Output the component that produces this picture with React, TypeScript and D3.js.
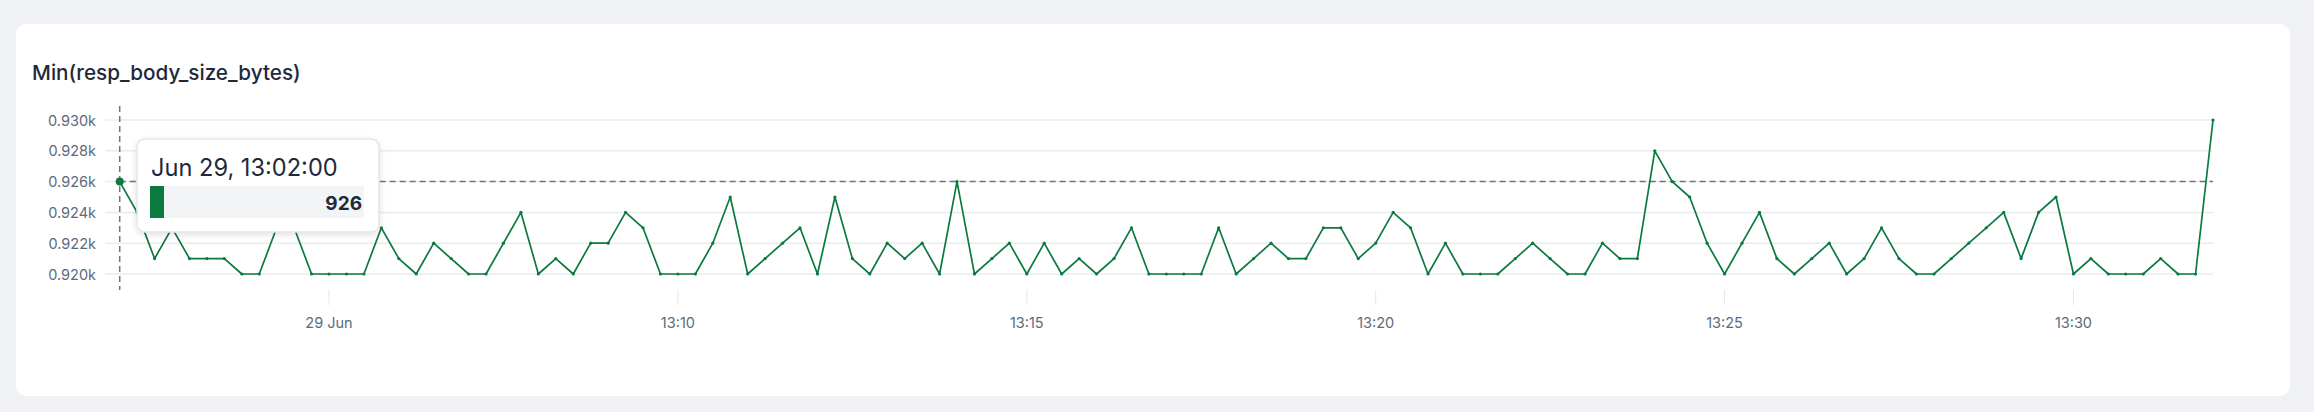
import React from "react";
import * as d3 from "d3";

const title = "Min(resp_body_size_bytes)";
const startTime = new Date(2024, 5, 29, 13, 2, 0);
const stepSeconds = 15;
const values: number[] = [
  926, 924, 921, 923, 921, 921, 921, 920, 920, 923,
  923, 920, 920, 920, 920, 923, 921, 920, 922, 921,
  920, 920, 922, 924, 920, 921, 920, 922, 922, 924,
  923, 920, 920, 920, 922, 925, 920, 921, 922, 923,
  920, 925, 921, 920, 922, 921, 922, 920, 926, 920,
  921, 922, 920, 922, 920, 921, 920, 921, 923, 920,
  920, 920, 920, 923, 920, 921, 922, 921, 921, 923,
  923, 921, 922, 924, 923, 920, 922, 920, 920, 920,
  921, 922, 921, 920, 920, 922, 921, 921, 928, 926,
  925, 922, 920, 922, 924, 921, 920, 921, 922, 920,
  921, 923, 921, 920, 920, 921, 922, 923, 924, 921,
  924, 925, 920, 921, 920, 920, 920, 921, 920, 920,
  930,
];
const yTicks = [920, 922, 924, 926, 928, 930];
const yTickLabels = ["0.920k", "0.922k", "0.924k", "0.926k", "0.928k", "0.930k"];
const xTickMinutes = [5, 10, 15, 20, 25, 30];
const xTickLabels = ["29 Jun", "13:10", "13:15", "13:20", "13:25", "13:30"];
const hoverIndex = 0;
const tooltipTitle = "Jun 29, 13:02:00";

const W = 2314;
const H = 412;
const FONT = "Inter, 'Noto Sans', sans-serif";
const GREEN = "#0b7a3e";

export default function App() {
  const data = values.map((v, i) => ({
    t: new Date(startTime.getTime() + i * stepSeconds * 1000),
    v,
  }));
  const endTime = data[data.length - 1].t;
  const x = d3.scaleTime().domain([startTime, endTime]).range([119.7, 2213]);
  const y = d3.scaleLinear().domain([920, 930]).range([274, 120]);
  const line = d3
    .line<{ t: Date; v: number }>()
    .x((d) => x(d.t))
    .y((d) => y(d.v));
  const hp = data[hoverIndex];
  const hx = x(hp.t);
  const hy = y(hp.v);

  return (
    <div style={{ position: "fixed", left: 0, top: 0, width: W, height: H, background: "#eff1f4" }}>
      <svg width={W} height={H} style={{ position: "absolute", left: 0, top: 0, fontFamily: FONT }}>
        <defs>
          <filter id="tipShadow" x="-20%" y="-30%" width="140%" height="160%">
            <feDropShadow dx="0" dy="2" stdDeviation="3" floodColor="#000" floodOpacity="0.12" />
          </filter>
        </defs>
        <rect x={16} y={24} width={2274} height={372} rx={10} fill="#ffffff" />
        <text x={32} y={80} fontSize={20.7} fontWeight={500} fill="#1e293b">
          {title}
        </text>
        {yTicks.map((t, i) => (
          <g key={t}>
            <line x1={105} x2={2213} y1={y(t)} y2={y(t)} stroke="#e9ebee" strokeWidth={1.5} />
            <text x={96} y={y(t)} fontSize={14.5} fill="#5b6b7d" textAnchor="end" dominantBaseline="central">
              {yTickLabels[i]}
            </text>
          </g>
        ))}
        {xTickMinutes.map((m, i) => {
          const tx = x(new Date(2024, 5, 29, 13, m, 0));
          return (
            <g key={m}>
              <line x1={tx} x2={tx} y1={290} y2={305} stroke="#e5e7eb" strokeWidth={1} />
              <text x={tx} y={322} fontSize={14.5} fill="#5b6b7d" textAnchor="middle" dominantBaseline="central">
                {xTickLabels[i]}
              </text>
            </g>
          );
        })}
        <line x1={hx} x2={hx} y1={106} y2={290} stroke="#64788a" strokeWidth={1.5} strokeDasharray="6 4" />
        <line x1={hx} x2={2213} y1={hy} y2={hy} stroke="#64788a" strokeWidth={1.5} strokeDasharray="6 4" />
        <path d={line(data) || ""} fill="none" stroke={GREEN} strokeWidth={1.7} strokeLinejoin="round" />
        {data.map((d, i) => (
          <circle key={i} cx={x(d.t)} cy={y(d.v)} r={1.6} fill={GREEN} />
        ))}
        <circle cx={hx} cy={hy} r={4} fill={GREEN} />
        <g transform="translate(137,139)">
          <rect x={0} y={0} width={242} height={93} rx={8} fill="#ffffff" stroke="#e3e5e8" strokeWidth={1.5} filter="url(#tipShadow)" />
          <text x={14} y={37} fontSize={23.6} fill="#1e293b">
            {tooltipTitle}
          </text>
          <rect x={13} y={47} width={214} height={32} fill="#f3f4f6" />
          <rect x={13} y={47} width={14} height={32} fill={GREEN} />
          <text x={225} y={71} fontSize={19} fontWeight={700} fill="#1e293b" textAnchor="end">
            {String(hp.v)}
          </text>
        </g>
      </svg>
    </div>
  );
}
